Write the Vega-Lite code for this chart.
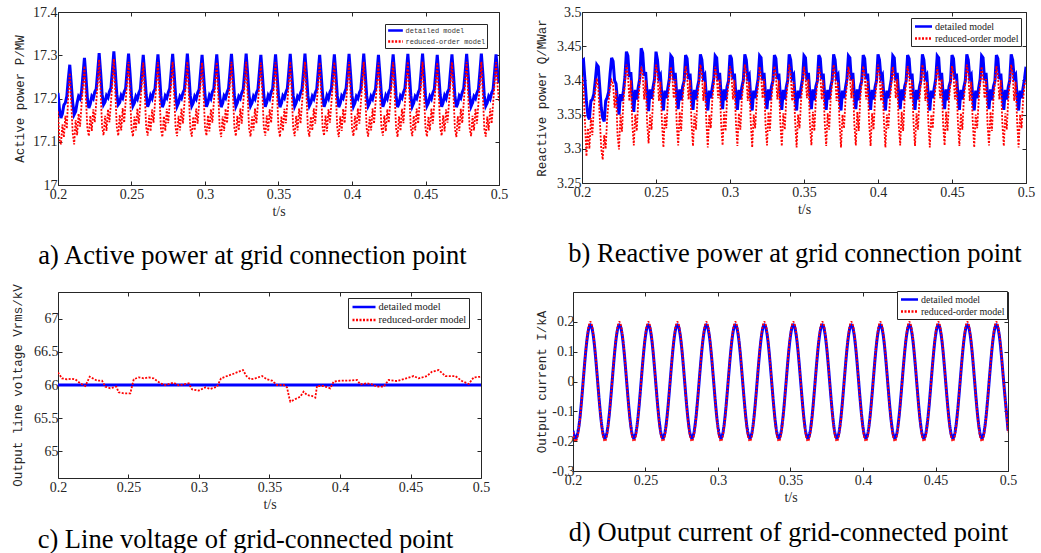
{
"$schema": "https://vega.github.io/schema/vega-lite/v6.json",
"background": "white",
"padding": {"left": 11, "top": 4, "right": 4, "bottom": 0},
"config": {
  "view": {"stroke": "#262626", "strokeWidth": 1},
  "axis": {"grid": false, "domain": false, "labelFlush": false, "labelOverlap": false, "tickColor": "#262626", "tickSize": -4, "tickWidth": 1, "labelFont": "Liberation Serif", "labelFontSize": 14, "labelColor": "#262626", "labelPadding": 5, "titleFont": "Liberation Mono", "titleFontSize": 12.5, "titleFontWeight": "normal", "titleColor": "#262626"},
  "axisX": {"titleFont": "Liberation Serif", "titleFontSize": 14, "labelPadding": 6, "titlePadding": 3},
  "title": {"font": "Liberation Serif", "fontSize": 26.5, "fontWeight": "normal", "color": "#000", "orient": "bottom", "anchor": "middle"}
},
"datasets": {
"A": [
{"t":0.2,"d":17.213,"r":17.17},{"t":0.201,"d":17.175,"r":17.105},{"t":0.202,"d":17.155,"r":17.094},{"t":0.203,"d":17.165,"r":17.14},{"t":0.204,"d":17.185,"r":17.11},{"t":0.205,"d":17.19,"r":17.16},{"t":0.206,"d":17.205,"r":17.13},{"t":0.207,"d":17.245,"r":17.21},
{"t":0.208,"d":17.278,"r":17.259},{"t":0.209,"d":17.235,"r":17.19},{"t":0.21,"d":17.19,"r":17.12},{"t":0.211,"d":17.163,"r":17.094},{"t":0.212,"d":17.17,"r":17.15},{"t":0.213,"d":17.19,"r":17.115},{"t":0.214,"d":17.205,"r":17.165},{"t":0.215,"d":17.2,"r":17.135},{"t":0.216,"d":17.215,"r":17.185},{"t":0.217,"d":17.255,"r":17.23},
{"t":0.218,"d":17.294,"r":17.275},{"t":0.219,"d":17.25,"r":17.2},{"t":0.22,"d":17.2,"r":17.13},{"t":0.221,"d":17.178,"r":17.113},{"t":0.222,"d":17.188,"r":17.16},{"t":0.223,"d":17.205,"r":17.125},{"t":0.224,"d":17.2,"r":17.175},{"t":0.225,"d":17.215,"r":17.145},{"t":0.226,"d":17.222,"r":17.19},{"t":0.227,"d":17.262,"r":17.235},
{"t":0.228,"d":17.305,"r":17.29},{"t":0.229,"d":17.26,"r":17.215},{"t":0.23,"d":17.21,"r":17.135},{"t":0.231,"d":17.186,"r":17.115},{"t":0.232,"d":17.192,"r":17.16},{"t":0.233,"d":17.207,"r":17.125},{"t":0.234,"d":17.202,"r":17.175},{"t":0.235,"d":17.216,"r":17.145},{"t":0.236,"d":17.224,"r":17.19},{"t":0.237,"d":17.265,"r":17.238},
{"t":0.238,"d":17.309,"r":17.292},{"t":0.239,"d":17.262,"r":17.214},{"t":0.24,"d":17.21,"r":17.134},{"t":0.241,"d":17.186,"r":17.114},{"t":0.242,"d":17.191,"r":17.162},{"t":0.243,"d":17.207,"r":17.126},{"t":0.244,"d":17.201,"r":17.178},{"t":0.245,"d":17.215,"r":17.144},{"t":0.246,"d":17.223,"r":17.192},{"t":0.247,"d":17.264,"r":17.238},
{"t":0.248,"d":17.304,"r":17.285},{"t":0.249,"d":17.258,"r":17.21},{"t":0.25,"d":17.206,"r":17.13},{"t":0.251,"d":17.183,"r":17.112},{"t":0.252,"d":17.19,"r":17.158},{"t":0.253,"d":17.205,"r":17.126},{"t":0.254,"d":17.199,"r":17.177},{"t":0.255,"d":17.213,"r":17.142},{"t":0.256,"d":17.221,"r":17.189},{"t":0.257,"d":17.261,"r":17.235},
{"t":0.258,"d":17.301,"r":17.283},{"t":0.259,"d":17.256,"r":17.213},{"t":0.26,"d":17.208,"r":17.133},{"t":0.261,"d":17.181,"r":17.114},{"t":0.262,"d":17.191,"r":17.161},{"t":0.263,"d":17.207,"r":17.124},{"t":0.264,"d":17.2,"r":17.175},{"t":0.265,"d":17.215,"r":17.144},{"t":0.266,"d":17.222,"r":17.191},{"t":0.267,"d":17.263,"r":17.236},
{"t":0.268,"d":17.302,"r":17.284},{"t":0.269,"d":17.257,"r":17.211},{"t":0.27,"d":17.206,"r":17.131},{"t":0.271,"d":17.18,"r":17.111},{"t":0.272,"d":17.189,"r":17.159},{"t":0.273,"d":17.206,"r":17.125},{"t":0.274,"d":17.201,"r":17.176},{"t":0.275,"d":17.214,"r":17.143},{"t":0.276,"d":17.223,"r":17.19},{"t":0.277,"d":17.262,"r":17.237},
{"t":0.278,"d":17.303,"r":17.285},{"t":0.279,"d":17.258,"r":17.212},{"t":0.28,"d":17.207,"r":17.132},{"t":0.281,"d":17.182,"r":17.113},{"t":0.282,"d":17.19,"r":17.16},{"t":0.283,"d":17.205,"r":17.126},{"t":0.284,"d":17.2,"r":17.177},{"t":0.285,"d":17.213,"r":17.142},{"t":0.286,"d":17.221,"r":17.189},{"t":0.287,"d":17.261,"r":17.235},
{"t":0.288,"d":17.304,"r":17.285},{"t":0.289,"d":17.258,"r":17.21},{"t":0.29,"d":17.206,"r":17.13},{"t":0.291,"d":17.183,"r":17.112},{"t":0.292,"d":17.19,"r":17.158},{"t":0.293,"d":17.205,"r":17.126},{"t":0.294,"d":17.199,"r":17.177},{"t":0.295,"d":17.213,"r":17.142},{"t":0.296,"d":17.221,"r":17.189},{"t":0.297,"d":17.261,"r":17.235},
{"t":0.298,"d":17.301,"r":17.283},{"t":0.299,"d":17.256,"r":17.213},{"t":0.3,"d":17.208,"r":17.133},{"t":0.301,"d":17.181,"r":17.114},{"t":0.302,"d":17.191,"r":17.161},{"t":0.303,"d":17.207,"r":17.124},{"t":0.304,"d":17.2,"r":17.175},{"t":0.305,"d":17.215,"r":17.144},{"t":0.306,"d":17.222,"r":17.191},{"t":0.307,"d":17.263,"r":17.236},
{"t":0.308,"d":17.302,"r":17.284},{"t":0.309,"d":17.257,"r":17.211},{"t":0.31,"d":17.206,"r":17.131},{"t":0.311,"d":17.18,"r":17.111},{"t":0.312,"d":17.189,"r":17.159},{"t":0.313,"d":17.206,"r":17.125},{"t":0.314,"d":17.201,"r":17.176},{"t":0.315,"d":17.214,"r":17.143},{"t":0.316,"d":17.223,"r":17.19},{"t":0.317,"d":17.262,"r":17.237},
{"t":0.318,"d":17.303,"r":17.285},{"t":0.319,"d":17.258,"r":17.212},{"t":0.32,"d":17.207,"r":17.132},{"t":0.321,"d":17.182,"r":17.113},{"t":0.322,"d":17.19,"r":17.16},{"t":0.323,"d":17.205,"r":17.126},{"t":0.324,"d":17.2,"r":17.177},{"t":0.325,"d":17.213,"r":17.142},{"t":0.326,"d":17.221,"r":17.189},{"t":0.327,"d":17.261,"r":17.235},
{"t":0.328,"d":17.304,"r":17.285},{"t":0.329,"d":17.258,"r":17.21},{"t":0.33,"d":17.206,"r":17.13},{"t":0.331,"d":17.183,"r":17.112},{"t":0.332,"d":17.19,"r":17.158},{"t":0.333,"d":17.205,"r":17.126},{"t":0.334,"d":17.199,"r":17.177},{"t":0.335,"d":17.213,"r":17.142},{"t":0.336,"d":17.221,"r":17.189},{"t":0.337,"d":17.261,"r":17.235},
{"t":0.338,"d":17.301,"r":17.283},{"t":0.339,"d":17.256,"r":17.213},{"t":0.34,"d":17.208,"r":17.133},{"t":0.341,"d":17.181,"r":17.114},{"t":0.342,"d":17.191,"r":17.161},{"t":0.343,"d":17.207,"r":17.124},{"t":0.344,"d":17.2,"r":17.175},{"t":0.345,"d":17.215,"r":17.144},{"t":0.346,"d":17.222,"r":17.191},{"t":0.347,"d":17.263,"r":17.236},
{"t":0.348,"d":17.302,"r":17.284},{"t":0.349,"d":17.257,"r":17.211},{"t":0.35,"d":17.206,"r":17.131},{"t":0.351,"d":17.18,"r":17.111},{"t":0.352,"d":17.189,"r":17.159},{"t":0.353,"d":17.206,"r":17.125},{"t":0.354,"d":17.201,"r":17.176},{"t":0.355,"d":17.214,"r":17.143},{"t":0.356,"d":17.223,"r":17.19},{"t":0.357,"d":17.262,"r":17.237},
{"t":0.358,"d":17.303,"r":17.285},{"t":0.359,"d":17.258,"r":17.212},{"t":0.36,"d":17.207,"r":17.132},{"t":0.361,"d":17.182,"r":17.113},{"t":0.362,"d":17.19,"r":17.16},{"t":0.363,"d":17.205,"r":17.126},{"t":0.364,"d":17.2,"r":17.177},{"t":0.365,"d":17.213,"r":17.142},{"t":0.366,"d":17.221,"r":17.189},{"t":0.367,"d":17.261,"r":17.235},
{"t":0.368,"d":17.304,"r":17.285},{"t":0.369,"d":17.258,"r":17.21},{"t":0.37,"d":17.206,"r":17.13},{"t":0.371,"d":17.183,"r":17.112},{"t":0.372,"d":17.19,"r":17.158},{"t":0.373,"d":17.205,"r":17.126},{"t":0.374,"d":17.199,"r":17.177},{"t":0.375,"d":17.213,"r":17.142},{"t":0.376,"d":17.221,"r":17.189},{"t":0.377,"d":17.261,"r":17.235},
{"t":0.378,"d":17.301,"r":17.283},{"t":0.379,"d":17.256,"r":17.213},{"t":0.38,"d":17.208,"r":17.133},{"t":0.381,"d":17.181,"r":17.114},{"t":0.382,"d":17.191,"r":17.161},{"t":0.383,"d":17.207,"r":17.124},{"t":0.384,"d":17.2,"r":17.175},{"t":0.385,"d":17.215,"r":17.144},{"t":0.386,"d":17.222,"r":17.191},{"t":0.387,"d":17.263,"r":17.236},
{"t":0.388,"d":17.302,"r":17.284},{"t":0.389,"d":17.257,"r":17.211},{"t":0.39,"d":17.206,"r":17.131},{"t":0.391,"d":17.18,"r":17.111},{"t":0.392,"d":17.189,"r":17.159},{"t":0.393,"d":17.206,"r":17.125},{"t":0.394,"d":17.201,"r":17.176},{"t":0.395,"d":17.214,"r":17.143},{"t":0.396,"d":17.223,"r":17.19},{"t":0.397,"d":17.262,"r":17.237},
{"t":0.398,"d":17.303,"r":17.285},{"t":0.399,"d":17.258,"r":17.212},{"t":0.4,"d":17.207,"r":17.132},{"t":0.401,"d":17.182,"r":17.113},{"t":0.402,"d":17.19,"r":17.16},{"t":0.403,"d":17.205,"r":17.126},{"t":0.404,"d":17.2,"r":17.177},{"t":0.405,"d":17.213,"r":17.142},{"t":0.406,"d":17.221,"r":17.189},{"t":0.407,"d":17.261,"r":17.235},
{"t":0.408,"d":17.304,"r":17.285},{"t":0.409,"d":17.258,"r":17.21},{"t":0.41,"d":17.206,"r":17.13},{"t":0.411,"d":17.183,"r":17.112},{"t":0.412,"d":17.19,"r":17.158},{"t":0.413,"d":17.205,"r":17.126},{"t":0.414,"d":17.199,"r":17.177},{"t":0.415,"d":17.213,"r":17.142},{"t":0.416,"d":17.221,"r":17.189},{"t":0.417,"d":17.261,"r":17.235},
{"t":0.418,"d":17.301,"r":17.283},{"t":0.419,"d":17.256,"r":17.213},{"t":0.42,"d":17.208,"r":17.133},{"t":0.421,"d":17.181,"r":17.114},{"t":0.422,"d":17.191,"r":17.161},{"t":0.423,"d":17.207,"r":17.124},{"t":0.424,"d":17.2,"r":17.175},{"t":0.425,"d":17.215,"r":17.144},{"t":0.426,"d":17.222,"r":17.191},{"t":0.427,"d":17.263,"r":17.236},
{"t":0.428,"d":17.302,"r":17.284},{"t":0.429,"d":17.257,"r":17.211},{"t":0.43,"d":17.206,"r":17.131},{"t":0.431,"d":17.18,"r":17.111},{"t":0.432,"d":17.189,"r":17.159},{"t":0.433,"d":17.206,"r":17.125},{"t":0.434,"d":17.201,"r":17.176},{"t":0.435,"d":17.214,"r":17.143},{"t":0.436,"d":17.223,"r":17.19},{"t":0.437,"d":17.262,"r":17.237},
{"t":0.438,"d":17.303,"r":17.285},{"t":0.439,"d":17.258,"r":17.212},{"t":0.44,"d":17.207,"r":17.132},{"t":0.441,"d":17.182,"r":17.113},{"t":0.442,"d":17.19,"r":17.16},{"t":0.443,"d":17.205,"r":17.126},{"t":0.444,"d":17.2,"r":17.177},{"t":0.445,"d":17.213,"r":17.142},{"t":0.446,"d":17.221,"r":17.189},{"t":0.447,"d":17.261,"r":17.235},
{"t":0.448,"d":17.304,"r":17.285},{"t":0.449,"d":17.258,"r":17.21},{"t":0.45,"d":17.206,"r":17.13},{"t":0.451,"d":17.183,"r":17.112},{"t":0.452,"d":17.19,"r":17.158},{"t":0.453,"d":17.205,"r":17.126},{"t":0.454,"d":17.199,"r":17.177},{"t":0.455,"d":17.213,"r":17.142},{"t":0.456,"d":17.221,"r":17.189},{"t":0.457,"d":17.261,"r":17.235},
{"t":0.458,"d":17.301,"r":17.283},{"t":0.459,"d":17.256,"r":17.213},{"t":0.46,"d":17.208,"r":17.133},{"t":0.461,"d":17.181,"r":17.114},{"t":0.462,"d":17.191,"r":17.161},{"t":0.463,"d":17.207,"r":17.124},{"t":0.464,"d":17.2,"r":17.175},{"t":0.465,"d":17.215,"r":17.144},{"t":0.466,"d":17.222,"r":17.191},{"t":0.467,"d":17.263,"r":17.236},
{"t":0.468,"d":17.302,"r":17.284},{"t":0.469,"d":17.257,"r":17.211},{"t":0.47,"d":17.206,"r":17.131},{"t":0.471,"d":17.18,"r":17.111},{"t":0.472,"d":17.189,"r":17.159},{"t":0.473,"d":17.206,"r":17.125},{"t":0.474,"d":17.201,"r":17.176},{"t":0.475,"d":17.214,"r":17.143},{"t":0.476,"d":17.223,"r":17.19},{"t":0.477,"d":17.262,"r":17.237},
{"t":0.478,"d":17.303,"r":17.285},{"t":0.479,"d":17.258,"r":17.212},{"t":0.48,"d":17.207,"r":17.132},{"t":0.481,"d":17.182,"r":17.113},{"t":0.482,"d":17.19,"r":17.16},{"t":0.483,"d":17.205,"r":17.126},{"t":0.484,"d":17.2,"r":17.177},{"t":0.485,"d":17.213,"r":17.142},{"t":0.486,"d":17.221,"r":17.189},{"t":0.487,"d":17.261,"r":17.235},
{"t":0.488,"d":17.304,"r":17.285},{"t":0.489,"d":17.258,"r":17.21},{"t":0.49,"d":17.206,"r":17.13},{"t":0.491,"d":17.183,"r":17.112},{"t":0.492,"d":17.19,"r":17.158},{"t":0.493,"d":17.205,"r":17.126},{"t":0.494,"d":17.199,"r":17.177},{"t":0.495,"d":17.213,"r":17.142},{"t":0.496,"d":17.221,"r":17.189},{"t":0.497,"d":17.261,"r":17.235},
{"t":0.498,"d":17.302,"r":17.284},{"t":0.499,"d":17.262,"r":17.23},{"t":0.5,"d":17.235,"r":17.195}
],
"B": [
{"t":0.2,"d":3.428,"r":3.405},{"t":0.201,"d":3.43,"r":3.39},{"t":0.202,"d":3.4,"r":3.34},{"t":0.203,"d":3.37,"r":3.289},{"t":0.204,"d":3.348,"r":3.33},{"t":0.205,"d":3.343,"r":3.3},{"t":0.206,"d":3.37,"r":3.345},{"t":0.207,"d":3.372,"r":3.32},{"t":0.208,"d":3.38,"r":3.36},{"t":0.209,"d":3.4,"r":3.385},
{"t":0.21,"d":3.423,"r":3.403},{"t":0.211,"d":3.42,"r":3.39},{"t":0.212,"d":3.39,"r":3.345},{"t":0.213,"d":3.36,"r":3.3},{"t":0.214,"d":3.345,"r":3.284},{"t":0.215,"d":3.34,"r":3.32},{"t":0.216,"d":3.37,"r":3.3},{"t":0.217,"d":3.375,"r":3.345},{"t":0.218,"d":3.383,"r":3.37},{"t":0.219,"d":3.41,"r":3.39},
{"t":0.22,"d":3.433,"r":3.4},{"t":0.221,"d":3.428,"r":3.395},{"t":0.222,"d":3.4,"r":3.36},{"t":0.223,"d":3.395,"r":3.385},{"t":0.224,"d":3.37,"r":3.32},{"t":0.225,"d":3.35,"r":3.299},{"t":0.226,"d":3.38,"r":3.35},{"t":0.227,"d":3.37,"r":3.325},{"t":0.228,"d":3.385,"r":3.37},{"t":0.229,"d":3.405,"r":3.395},
{"t":0.23,"d":3.442,"r":3.423},{"t":0.231,"d":3.436,"r":3.41},{"t":0.232,"d":3.405,"r":3.37},{"t":0.233,"d":3.412,"r":3.4},{"t":0.234,"d":3.378,"r":3.336},{"t":0.235,"d":3.354,"r":3.305},{"t":0.236,"d":3.386,"r":3.35},{"t":0.237,"d":3.372,"r":3.326},{"t":0.238,"d":3.39,"r":3.37},{"t":0.239,"d":3.402,"r":3.396},
{"t":0.24,"d":3.447,"r":3.42},{"t":0.241,"d":3.44,"r":3.41},{"t":0.242,"d":3.407,"r":3.372},{"t":0.243,"d":3.412,"r":3.4},{"t":0.244,"d":3.38,"r":3.338},{"t":0.245,"d":3.355,"r":3.308},{"t":0.246,"d":3.387,"r":3.35},{"t":0.247,"d":3.373,"r":3.328},{"t":0.248,"d":3.39,"r":3.37},{"t":0.249,"d":3.402,"r":3.396},
{"t":0.25,"d":3.442,"r":3.423},{"t":0.251,"d":3.43,"r":3.41},{"t":0.252,"d":3.404,"r":3.37},{"t":0.253,"d":3.408,"r":3.398},{"t":0.254,"d":3.376,"r":3.34},{"t":0.255,"d":3.356,"r":3.302},{"t":0.256,"d":3.385,"r":3.35},{"t":0.257,"d":3.374,"r":3.33},{"t":0.258,"d":3.389,"r":3.37},{"t":0.259,"d":3.402,"r":3.394},
{"t":0.26,"d":3.436,"r":3.42},{"t":0.261,"d":3.433,"r":3.406},{"t":0.262,"d":3.4,"r":3.374},{"t":0.263,"d":3.411,"r":3.402},{"t":0.264,"d":3.379,"r":3.336},{"t":0.265,"d":3.358,"r":3.305},{"t":0.266,"d":3.387,"r":3.354},{"t":0.267,"d":3.371,"r":3.326},{"t":0.268,"d":3.391,"r":3.373},{"t":0.269,"d":3.399,"r":3.397},
{"t":0.27,"d":3.437,"r":3.421},{"t":0.271,"d":3.432,"r":3.408},{"t":0.272,"d":3.402,"r":3.372},{"t":0.273,"d":3.41,"r":3.4},{"t":0.274,"d":3.378,"r":3.338},{"t":0.275,"d":3.357,"r":3.304},{"t":0.276,"d":3.386,"r":3.352},{"t":0.277,"d":3.372,"r":3.328},{"t":0.278,"d":3.39,"r":3.372},{"t":0.279,"d":3.4,"r":3.396},
{"t":0.28,"d":3.438,"r":3.423},{"t":0.281,"d":3.43,"r":3.41},{"t":0.282,"d":3.404,"r":3.37},{"t":0.283,"d":3.408,"r":3.398},{"t":0.284,"d":3.376,"r":3.34},{"t":0.285,"d":3.356,"r":3.302},{"t":0.286,"d":3.385,"r":3.35},{"t":0.287,"d":3.374,"r":3.33},{"t":0.288,"d":3.389,"r":3.37},{"t":0.289,"d":3.402,"r":3.394},
{"t":0.29,"d":3.436,"r":3.42},{"t":0.291,"d":3.433,"r":3.406},{"t":0.292,"d":3.4,"r":3.374},{"t":0.293,"d":3.411,"r":3.402},{"t":0.294,"d":3.379,"r":3.336},{"t":0.295,"d":3.358,"r":3.305},{"t":0.296,"d":3.387,"r":3.354},{"t":0.297,"d":3.371,"r":3.326},{"t":0.298,"d":3.391,"r":3.373},{"t":0.299,"d":3.399,"r":3.397},
{"t":0.3,"d":3.437,"r":3.421},{"t":0.301,"d":3.432,"r":3.408},{"t":0.302,"d":3.402,"r":3.372},{"t":0.303,"d":3.41,"r":3.4},{"t":0.304,"d":3.378,"r":3.338},{"t":0.305,"d":3.357,"r":3.304},{"t":0.306,"d":3.386,"r":3.352},{"t":0.307,"d":3.372,"r":3.328},{"t":0.308,"d":3.39,"r":3.372},{"t":0.309,"d":3.4,"r":3.396},
{"t":0.31,"d":3.438,"r":3.423},{"t":0.311,"d":3.43,"r":3.41},{"t":0.312,"d":3.404,"r":3.37},{"t":0.313,"d":3.408,"r":3.398},{"t":0.314,"d":3.376,"r":3.34},{"t":0.315,"d":3.356,"r":3.302},{"t":0.316,"d":3.385,"r":3.35},{"t":0.317,"d":3.374,"r":3.33},{"t":0.318,"d":3.389,"r":3.37},{"t":0.319,"d":3.402,"r":3.394},
{"t":0.32,"d":3.436,"r":3.42},{"t":0.321,"d":3.433,"r":3.406},{"t":0.322,"d":3.4,"r":3.374},{"t":0.323,"d":3.411,"r":3.402},{"t":0.324,"d":3.379,"r":3.336},{"t":0.325,"d":3.358,"r":3.305},{"t":0.326,"d":3.387,"r":3.354},{"t":0.327,"d":3.371,"r":3.326},{"t":0.328,"d":3.391,"r":3.373},{"t":0.329,"d":3.399,"r":3.397},
{"t":0.33,"d":3.437,"r":3.421},{"t":0.331,"d":3.432,"r":3.408},{"t":0.332,"d":3.402,"r":3.372},{"t":0.333,"d":3.41,"r":3.4},{"t":0.334,"d":3.378,"r":3.338},{"t":0.335,"d":3.357,"r":3.304},{"t":0.336,"d":3.386,"r":3.352},{"t":0.337,"d":3.372,"r":3.328},{"t":0.338,"d":3.39,"r":3.372},{"t":0.339,"d":3.4,"r":3.396},
{"t":0.34,"d":3.438,"r":3.423},{"t":0.341,"d":3.43,"r":3.41},{"t":0.342,"d":3.404,"r":3.37},{"t":0.343,"d":3.408,"r":3.398},{"t":0.344,"d":3.376,"r":3.34},{"t":0.345,"d":3.356,"r":3.302},{"t":0.346,"d":3.385,"r":3.35},{"t":0.347,"d":3.374,"r":3.33},{"t":0.348,"d":3.389,"r":3.37},{"t":0.349,"d":3.402,"r":3.394},
{"t":0.35,"d":3.436,"r":3.42},{"t":0.351,"d":3.433,"r":3.406},{"t":0.352,"d":3.4,"r":3.374},{"t":0.353,"d":3.411,"r":3.402},{"t":0.354,"d":3.379,"r":3.336},{"t":0.355,"d":3.358,"r":3.305},{"t":0.356,"d":3.387,"r":3.354},{"t":0.357,"d":3.371,"r":3.326},{"t":0.358,"d":3.391,"r":3.373},{"t":0.359,"d":3.399,"r":3.397},
{"t":0.36,"d":3.437,"r":3.421},{"t":0.361,"d":3.432,"r":3.408},{"t":0.362,"d":3.402,"r":3.372},{"t":0.363,"d":3.41,"r":3.4},{"t":0.364,"d":3.378,"r":3.338},{"t":0.365,"d":3.357,"r":3.304},{"t":0.366,"d":3.386,"r":3.352},{"t":0.367,"d":3.372,"r":3.328},{"t":0.368,"d":3.39,"r":3.372},{"t":0.369,"d":3.4,"r":3.396},
{"t":0.37,"d":3.438,"r":3.423},{"t":0.371,"d":3.43,"r":3.41},{"t":0.372,"d":3.404,"r":3.37},{"t":0.373,"d":3.408,"r":3.398},{"t":0.374,"d":3.376,"r":3.34},{"t":0.375,"d":3.356,"r":3.302},{"t":0.376,"d":3.385,"r":3.35},{"t":0.377,"d":3.374,"r":3.33},{"t":0.378,"d":3.389,"r":3.37},{"t":0.379,"d":3.402,"r":3.394},
{"t":0.38,"d":3.436,"r":3.42},{"t":0.381,"d":3.433,"r":3.406},{"t":0.382,"d":3.4,"r":3.374},{"t":0.383,"d":3.411,"r":3.402},{"t":0.384,"d":3.379,"r":3.336},{"t":0.385,"d":3.358,"r":3.305},{"t":0.386,"d":3.387,"r":3.354},{"t":0.387,"d":3.371,"r":3.326},{"t":0.388,"d":3.391,"r":3.373},{"t":0.389,"d":3.399,"r":3.397},
{"t":0.39,"d":3.437,"r":3.421},{"t":0.391,"d":3.432,"r":3.408},{"t":0.392,"d":3.402,"r":3.372},{"t":0.393,"d":3.41,"r":3.4},{"t":0.394,"d":3.378,"r":3.338},{"t":0.395,"d":3.357,"r":3.304},{"t":0.396,"d":3.386,"r":3.352},{"t":0.397,"d":3.372,"r":3.328},{"t":0.398,"d":3.39,"r":3.372},{"t":0.399,"d":3.4,"r":3.396},
{"t":0.4,"d":3.438,"r":3.423},{"t":0.401,"d":3.43,"r":3.41},{"t":0.402,"d":3.404,"r":3.37},{"t":0.403,"d":3.408,"r":3.398},{"t":0.404,"d":3.376,"r":3.34},{"t":0.405,"d":3.356,"r":3.302},{"t":0.406,"d":3.385,"r":3.35},{"t":0.407,"d":3.374,"r":3.33},{"t":0.408,"d":3.389,"r":3.37},{"t":0.409,"d":3.402,"r":3.394},
{"t":0.41,"d":3.436,"r":3.42},{"t":0.411,"d":3.433,"r":3.406},{"t":0.412,"d":3.4,"r":3.374},{"t":0.413,"d":3.411,"r":3.402},{"t":0.414,"d":3.379,"r":3.336},{"t":0.415,"d":3.358,"r":3.305},{"t":0.416,"d":3.387,"r":3.354},{"t":0.417,"d":3.371,"r":3.326},{"t":0.418,"d":3.391,"r":3.373},{"t":0.419,"d":3.399,"r":3.397},
{"t":0.42,"d":3.437,"r":3.421},{"t":0.421,"d":3.432,"r":3.408},{"t":0.422,"d":3.402,"r":3.372},{"t":0.423,"d":3.41,"r":3.4},{"t":0.424,"d":3.378,"r":3.338},{"t":0.425,"d":3.357,"r":3.304},{"t":0.426,"d":3.386,"r":3.352},{"t":0.427,"d":3.372,"r":3.328},{"t":0.428,"d":3.39,"r":3.372},{"t":0.429,"d":3.4,"r":3.396},
{"t":0.43,"d":3.438,"r":3.423},{"t":0.431,"d":3.43,"r":3.41},{"t":0.432,"d":3.404,"r":3.37},{"t":0.433,"d":3.408,"r":3.398},{"t":0.434,"d":3.376,"r":3.34},{"t":0.435,"d":3.356,"r":3.302},{"t":0.436,"d":3.385,"r":3.35},{"t":0.437,"d":3.374,"r":3.33},{"t":0.438,"d":3.389,"r":3.37},{"t":0.439,"d":3.402,"r":3.394},
{"t":0.44,"d":3.436,"r":3.42},{"t":0.441,"d":3.433,"r":3.406},{"t":0.442,"d":3.4,"r":3.374},{"t":0.443,"d":3.411,"r":3.402},{"t":0.444,"d":3.379,"r":3.336},{"t":0.445,"d":3.358,"r":3.305},{"t":0.446,"d":3.387,"r":3.354},{"t":0.447,"d":3.371,"r":3.326},{"t":0.448,"d":3.391,"r":3.373},{"t":0.449,"d":3.399,"r":3.397},
{"t":0.45,"d":3.437,"r":3.421},{"t":0.451,"d":3.432,"r":3.408},{"t":0.452,"d":3.402,"r":3.372},{"t":0.453,"d":3.41,"r":3.4},{"t":0.454,"d":3.378,"r":3.338},{"t":0.455,"d":3.357,"r":3.304},{"t":0.456,"d":3.386,"r":3.352},{"t":0.457,"d":3.372,"r":3.328},{"t":0.458,"d":3.39,"r":3.372},{"t":0.459,"d":3.4,"r":3.396},
{"t":0.46,"d":3.438,"r":3.423},{"t":0.461,"d":3.43,"r":3.41},{"t":0.462,"d":3.404,"r":3.37},{"t":0.463,"d":3.408,"r":3.398},{"t":0.464,"d":3.376,"r":3.34},{"t":0.465,"d":3.356,"r":3.302},{"t":0.466,"d":3.385,"r":3.35},{"t":0.467,"d":3.374,"r":3.33},{"t":0.468,"d":3.389,"r":3.37},{"t":0.469,"d":3.402,"r":3.394},
{"t":0.47,"d":3.436,"r":3.42},{"t":0.471,"d":3.433,"r":3.406},{"t":0.472,"d":3.4,"r":3.374},{"t":0.473,"d":3.411,"r":3.402},{"t":0.474,"d":3.379,"r":3.336},{"t":0.475,"d":3.358,"r":3.305},{"t":0.476,"d":3.387,"r":3.354},{"t":0.477,"d":3.371,"r":3.326},{"t":0.478,"d":3.391,"r":3.373},{"t":0.479,"d":3.399,"r":3.397},
{"t":0.48,"d":3.437,"r":3.421},{"t":0.481,"d":3.432,"r":3.408},{"t":0.482,"d":3.402,"r":3.372},{"t":0.483,"d":3.41,"r":3.4},{"t":0.484,"d":3.378,"r":3.338},{"t":0.485,"d":3.357,"r":3.304},{"t":0.486,"d":3.386,"r":3.352},{"t":0.487,"d":3.372,"r":3.328},{"t":0.488,"d":3.39,"r":3.372},{"t":0.489,"d":3.4,"r":3.396},
{"t":0.49,"d":3.438,"r":3.423},{"t":0.491,"d":3.43,"r":3.41},{"t":0.492,"d":3.404,"r":3.37},{"t":0.493,"d":3.408,"r":3.398},{"t":0.494,"d":3.376,"r":3.34},{"t":0.495,"d":3.356,"r":3.302},{"t":0.496,"d":3.385,"r":3.35},{"t":0.497,"d":3.374,"r":3.33},{"t":0.498,"d":3.389,"r":3.37},{"t":0.499,"d":3.402,"r":3.394},
{"t":0.5,"d":3.42,"r":3.4}
],
"C": [
{"t":0.2,"d":66,"r":66.19},{"t":0.2028,"d":66,"r":66.1},{"t":0.2064,"d":66,"r":66.085},{"t":0.2095,"d":66,"r":66.095},{"t":0.2123,"d":66,"r":66.085},{"t":0.2158,"d":66,"r":66.025},{"t":0.2194,"d":66,"r":65.985},{"t":0.2225,"d":66,"r":66.125},{"t":0.2277,"d":66,"r":66.065},{"t":0.2312,"d":66,"r":66.065},{"t":0.2336,"d":66,"r":65.975},{"t":0.2371,"d":66,"r":65.95},{"t":0.2414,"d":66,"r":65.975},{"t":0.243,"d":66,"r":65.89},{"t":0.2466,"d":66,"r":65.875},{"t":0.2513,"d":66,"r":65.875},{"t":0.2537,"d":66,"r":66.085},{"t":0.2572,"d":66,"r":66.115},{"t":0.2608,"d":66,"r":66.1},{"t":0.2643,"d":66,"r":66.115},{"t":0.2678,"d":66,"r":66.1},{"t":0.2726,"d":66,"r":66.025},{"t":0.2761,"d":66,"r":66},{"t":0.282,"d":66,"r":66.035},{"t":0.2856,"d":66,"r":65.995},{"t":0.2927,"d":66,"r":66.025},{"t":0.295,"d":66,"r":65.935},{"t":0.2998,"d":66,"r":65.915},{"t":0.3045,"d":66,"r":65.965},{"t":0.308,"d":66,"r":65.94},{"t":0.3128,"d":66,"r":65.975},{"t":0.3156,"d":66,"r":66.1},{"t":0.3199,"d":66,"r":66.135},{"t":0.3234,"d":66,"r":66.16},{"t":0.3281,"d":66,"r":66.2},{"t":0.3312,"d":66,"r":66.225},{"t":0.3336,"d":66,"r":66.135},{"t":0.3364,"d":66,"r":66.085},{"t":0.34,"d":66,"r":66.1},{"t":0.3447,"d":66,"r":66.135},{"t":0.3482,"d":66,"r":66.085},{"t":0.3518,"d":66,"r":66.065},{"t":0.3553,"d":66,"r":66},{"t":0.36,"d":66,"r":66},{"t":0.3624,"d":66,"r":65.965},{"t":0.3641,"d":66,"r":65.8},{"t":0.3648,"d":66,"r":65.75},{"t":0.3695,"d":66,"r":65.8},{"t":0.3719,"d":66,"r":65.825},{"t":0.3742,"d":66,"r":65.9},{"t":0.3766,"d":66,"r":65.85},{"t":0.3801,"d":66,"r":65.835},{"t":0.3825,"d":66,"r":65.81},{"t":0.3837,"d":66,"r":65.985},{"t":0.3884,"d":66,"r":65.985},{"t":0.3931,"d":66,"r":65.95},{"t":0.3955,"d":66,"r":66.05},{"t":0.4002,"d":66,"r":66.065},{"t":0.405,"d":66,"r":66.065},{"t":0.4121,"d":66,"r":66.075},{"t":0.4144,"d":66,"r":66.01},{"t":0.4191,"d":66,"r":66.025},{"t":0.4227,"d":66,"r":66.01},{"t":0.4262,"d":66,"r":65.975},{"t":0.431,"d":66,"r":65.975},{"t":0.4345,"d":66,"r":66.075},{"t":0.4404,"d":66,"r":66.06},{"t":0.4463,"d":66,"r":66.095},{"t":0.4522,"d":66,"r":66.135},{"t":0.4558,"d":66,"r":66.1},{"t":0.4617,"d":66,"r":66.135},{"t":0.4652,"d":66,"r":66.2},{"t":0.47,"d":66,"r":66.225},{"t":0.4747,"d":66,"r":66.135},{"t":0.4818,"d":66,"r":66.135},{"t":0.4865,"d":66,"r":66.06},{"t":0.4913,"d":66,"r":66.015},{"t":0.4948,"d":66,"r":66.115},{"t":0.5,"d":66,"r":66.125}
],
"D": [
{"t":0.2,"d":-0.165,"r":-0.17},
{"t":0.202,"d":-0.19,"r":-0.2},{"t":0.2045,"d":-0.134,"r":-0.141},{"t":0.207,"d":0,"r":0},{"t":0.2095,"d":0.134,"r":0.141},{"t":0.212,"d":0.19,"r":0.2},{"t":0.2145,"d":0.134,"r":0.141},{"t":0.217,"d":0,"r":0},{"t":0.2195,"d":-0.134,"r":-0.141},
{"t":0.222,"d":-0.19,"r":-0.2},{"t":0.2245,"d":-0.134,"r":-0.141},{"t":0.227,"d":0,"r":0},{"t":0.2295,"d":0.134,"r":0.141},{"t":0.232,"d":0.19,"r":0.2},{"t":0.2345,"d":0.134,"r":0.141},{"t":0.237,"d":0,"r":0},{"t":0.2395,"d":-0.134,"r":-0.141},
{"t":0.242,"d":-0.19,"r":-0.2},{"t":0.2445,"d":-0.134,"r":-0.141},{"t":0.247,"d":0,"r":0},{"t":0.2495,"d":0.134,"r":0.141},{"t":0.252,"d":0.19,"r":0.2},{"t":0.2545,"d":0.134,"r":0.141},{"t":0.257,"d":0,"r":0},{"t":0.2595,"d":-0.134,"r":-0.141},
{"t":0.262,"d":-0.19,"r":-0.2},{"t":0.2645,"d":-0.134,"r":-0.141},{"t":0.267,"d":0,"r":0},{"t":0.2695,"d":0.134,"r":0.141},{"t":0.272,"d":0.19,"r":0.2},{"t":0.2745,"d":0.134,"r":0.141},{"t":0.277,"d":0,"r":0},{"t":0.2795,"d":-0.134,"r":-0.141},
{"t":0.282,"d":-0.19,"r":-0.2},{"t":0.2845,"d":-0.134,"r":-0.141},{"t":0.287,"d":0,"r":0},{"t":0.2895,"d":0.134,"r":0.141},{"t":0.292,"d":0.19,"r":0.2},{"t":0.2945,"d":0.134,"r":0.141},{"t":0.297,"d":0,"r":0},{"t":0.2995,"d":-0.134,"r":-0.141},
{"t":0.302,"d":-0.19,"r":-0.2},{"t":0.3045,"d":-0.134,"r":-0.141},{"t":0.307,"d":0,"r":0},{"t":0.3095,"d":0.134,"r":0.141},{"t":0.312,"d":0.19,"r":0.2},{"t":0.3145,"d":0.134,"r":0.141},{"t":0.317,"d":0,"r":0},{"t":0.3195,"d":-0.134,"r":-0.141},
{"t":0.322,"d":-0.19,"r":-0.2},{"t":0.3245,"d":-0.134,"r":-0.141},{"t":0.327,"d":0,"r":0},{"t":0.3295,"d":0.134,"r":0.141},{"t":0.332,"d":0.19,"r":0.2},{"t":0.3345,"d":0.134,"r":0.141},{"t":0.337,"d":0,"r":0},{"t":0.3395,"d":-0.134,"r":-0.141},
{"t":0.342,"d":-0.19,"r":-0.2},{"t":0.3445,"d":-0.134,"r":-0.141},{"t":0.347,"d":0,"r":0},{"t":0.3495,"d":0.134,"r":0.141},{"t":0.352,"d":0.19,"r":0.2},{"t":0.3545,"d":0.134,"r":0.141},{"t":0.357,"d":0,"r":0},{"t":0.3595,"d":-0.134,"r":-0.141},
{"t":0.362,"d":-0.19,"r":-0.2},{"t":0.3645,"d":-0.134,"r":-0.141},{"t":0.367,"d":0,"r":0},{"t":0.3695,"d":0.134,"r":0.141},{"t":0.372,"d":0.19,"r":0.2},{"t":0.3745,"d":0.134,"r":0.141},{"t":0.377,"d":0,"r":0},{"t":0.3795,"d":-0.134,"r":-0.141},
{"t":0.382,"d":-0.19,"r":-0.2},{"t":0.3845,"d":-0.134,"r":-0.141},{"t":0.387,"d":0,"r":0},{"t":0.3895,"d":0.134,"r":0.141},{"t":0.392,"d":0.19,"r":0.2},{"t":0.3945,"d":0.134,"r":0.141},{"t":0.397,"d":0,"r":0},{"t":0.3995,"d":-0.134,"r":-0.141},
{"t":0.402,"d":-0.19,"r":-0.2},{"t":0.4045,"d":-0.134,"r":-0.141},{"t":0.407,"d":0,"r":0},{"t":0.4095,"d":0.134,"r":0.141},{"t":0.412,"d":0.19,"r":0.2},{"t":0.4145,"d":0.134,"r":0.141},{"t":0.417,"d":0,"r":0},{"t":0.4195,"d":-0.134,"r":-0.141},
{"t":0.422,"d":-0.19,"r":-0.2},{"t":0.4245,"d":-0.134,"r":-0.141},{"t":0.427,"d":0,"r":0},{"t":0.4295,"d":0.134,"r":0.141},{"t":0.432,"d":0.19,"r":0.2},{"t":0.4345,"d":0.134,"r":0.141},{"t":0.437,"d":0,"r":0},{"t":0.4395,"d":-0.134,"r":-0.141},
{"t":0.442,"d":-0.19,"r":-0.2},{"t":0.4445,"d":-0.134,"r":-0.141},{"t":0.447,"d":0,"r":0},{"t":0.4495,"d":0.134,"r":0.141},{"t":0.452,"d":0.19,"r":0.2},{"t":0.4545,"d":0.134,"r":0.141},{"t":0.457,"d":0,"r":0},{"t":0.4595,"d":-0.134,"r":-0.141},
{"t":0.462,"d":-0.19,"r":-0.2},{"t":0.4645,"d":-0.134,"r":-0.141},{"t":0.467,"d":0,"r":0},{"t":0.4695,"d":0.134,"r":0.141},{"t":0.472,"d":0.19,"r":0.2},{"t":0.4745,"d":0.134,"r":0.141},{"t":0.477,"d":0,"r":0},{"t":0.4795,"d":-0.134,"r":-0.141},
{"t":0.482,"d":-0.19,"r":-0.2},{"t":0.4845,"d":-0.134,"r":-0.141},{"t":0.487,"d":0,"r":0},{"t":0.4895,"d":0.134,"r":0.141},{"t":0.492,"d":0.19,"r":0.2},{"t":0.4945,"d":0.134,"r":0.141},{"t":0.497,"d":0,"r":0},{"t":0.4995,"d":-0.134,"r":-0.141},
{"t":0.5,"d":-0.165,"r":-0.17}
]
},
"resolve": {"scale": {"color": "independent", "strokeDash": "independent"}},
"vconcat": [
{"resolve": {"scale": {"color": "independent", "strokeDash": "independent"}},
 "hconcat": [
{"width": 441, "height": 173,
 "title": {"text": "a) Active power at grid connection point", "dx": -26, "offset": 25},
 "layer": [
  {"data": {"name": "A"}, "transform": [{"fold": ["d","r"], "as": ["s","v"]}],
   "mark": {"type": "line", "clip": true},
   "encoding": {
    "x": {"field": "t", "type": "quantitative", "scale": {"domain": [0.2,0.5], "nice": false, "zero": false}, "axis": {"values": [0.2,0.25,0.3,0.35,0.4,0.45,0.5], "labelExpr": "''+datum.value", "title": "t/s"}},
    "y": {"field": "v", "type": "quantitative", "scale": {"domain": [17,17.4], "nice": false, "zero": false}, "axis": {"values": [17,17.1,17.2,17.3,17.4], "labelExpr": "''+datum.value", "title": "Active power P/MW", "titlePadding": 6}},
    "color": {"field": "s", "type": "nominal", "scale": {"domain": ["d","r"], "range": ["#0000ff","#ff0000"]},
      "legend": {"orient": "none", "legendX": 327, "legendY": 12, "title": null, "labelExpr": "datum.label=='d'?'detailed model':'reduced-order model'", "symbolType": "M-2.1,0H2.1", "symbolSize": 49, "symbolStrokeWidth": 2.5, "symbolOffset": 4, "labelOffset": 5, "labelFont": "Liberation Mono", "labelFontSize": 7, "labelColor": "#333", "strokeColor": "#262626", "fillColor": "#fff", "padding": 1.5, "rowPadding": 1}},
    "strokeDash": {"field": "s", "type": "nominal", "scale": {"domain": ["d","r"], "range": [[1,0],[2,1.5]]},
      "legend": {"orient": "none", "legendX": 327, "legendY": 12, "title": null, "labelExpr": "datum.label=='d'?'detailed model':'reduced-order model'", "symbolType": "M-2.1,0H2.1", "symbolSize": 49, "symbolStrokeWidth": 2.5, "symbolOffset": 4, "labelOffset": 5, "labelFont": "Liberation Mono", "labelFontSize": 7, "labelColor": "#333", "strokeColor": "#262626", "fillColor": "#fff", "padding": 1.5, "rowPadding": 1}},
    "strokeWidth": {"condition": {"test": "datum.s=='d'", "value": 3}, "value": 1.8}
   }},
  {"data": {"values": [{"t":0.2,"v":17}]}, "mark": {"type": "point", "opacity": 0},
   "encoding": {
    "x": {"field": "t", "type": "quantitative", "axis": {"orient": "top", "labels": false, "title": null, "values": [0.2,0.25,0.3,0.35,0.4,0.45,0.5]}},
    "y": {"field": "v", "type": "quantitative", "axis": {"orient": "right", "labels": false, "title": null, "values": [17,17.1,17.2,17.3,17.4]}}
   }}
 ],
 "resolve": {"axis": {"x": "independent", "y": "independent"}}
},
{"width": 444, "height": 171,
 "title": {"text": "b) Reactive power at grid connection point", "dx": -9, "offset": 25},
 "layer": [
  {"data": {"name": "B"}, "transform": [{"fold": ["d","r"], "as": ["s","v"]}],
   "mark": {"type": "line", "clip": true},
   "encoding": {
    "x": {"field": "t", "type": "quantitative", "scale": {"domain": [0.2,0.5], "nice": false, "zero": false}, "axis": {"values": [0.2,0.25,0.3,0.35,0.4,0.45,0.5], "labelExpr": "''+datum.value", "title": "t/s"}},
    "y": {"field": "v", "type": "quantitative", "scale": {"domain": [3.25,3.5], "nice": false, "zero": false}, "axis": {"values": [3.25,3.3,3.35,3.4,3.45,3.5], "labelExpr": "''+datum.value", "title": "Reactive power Q/MWar", "titlePadding": 8}},
    "color": {"field": "s", "type": "nominal", "scale": {"domain": ["d","r"], "range": ["#0000ff","#ff0000"]},
      "legend": {"orient": "none", "legendX": 329, "legendY": 6, "title": null, "labelExpr": "datum.label=='d'?'detailed model':'reduced-order model'", "symbolType": "M-1.7,0H1.7", "symbolSize": 100, "symbolStrokeWidth": 2.5, "symbolOffset": 4, "labelOffset": 5, "labelFont": "Liberation Serif", "labelFontSize": 10, "labelColor": "#222", "strokeColor": "#262626", "fillColor": "#fff", "padding": 2, "rowPadding": 0}},
    "strokeDash": {"field": "s", "type": "nominal", "scale": {"domain": ["d","r"], "range": [[1,0],[2,1.5]]},
      "legend": {"orient": "none", "legendX": 329, "legendY": 6, "title": null, "labelExpr": "datum.label=='d'?'detailed model':'reduced-order model'", "symbolType": "M-1.7,0H1.7", "symbolSize": 100, "symbolStrokeWidth": 2.5, "symbolOffset": 4, "labelOffset": 5, "labelFont": "Liberation Serif", "labelFontSize": 10, "labelColor": "#222", "strokeColor": "#262626", "fillColor": "#fff", "padding": 2, "rowPadding": 0}},
    "strokeWidth": {"condition": {"test": "datum.s=='d'", "value": 3}, "value": 1.8}
   }},
  {"data": {"values": [{"t":0.2,"v":3.25}]}, "mark": {"type": "point", "opacity": 0},
   "encoding": {
    "x": {"field": "t", "type": "quantitative", "axis": {"orient": "top", "labels": false, "title": null, "values": [0.2,0.25,0.3,0.35,0.4,0.45,0.5]}},
    "y": {"field": "v", "type": "quantitative", "axis": {"orient": "right", "labels": false, "title": null, "values": [3.25,3.3,3.35,3.4,3.45,3.5]}}
   }}
 ],
 "resolve": {"axis": {"x": "independent", "y": "independent"}}
}
], "spacing": 26},
{"resolve": {"scale": {"color": "independent", "strokeDash": "independent"}},
 "hconcat": [
{"width": 423, "height": 186,
 "title": {"text": "c) Line voltage of grid-connected point", "dx": -24, "offset": 16},
 "layer": [
  {"data": {"name": "C"}, "transform": [{"fold": ["d","r"], "as": ["s","v"]}],
   "mark": {"type": "line", "clip": true},
   "encoding": {
    "x": {"field": "t", "type": "quantitative", "scale": {"domain": [0.2,0.5], "nice": false, "zero": false}, "axis": {"values": [0.2,0.25,0.3,0.35,0.4,0.45,0.5], "labelExpr": "''+datum.value", "title": "t/s"}},
    "y": {"field": "v", "type": "quantitative", "scale": {"domain": [64.6,67.4], "nice": false, "zero": false}, "axis": {"values": [65,65.5,66,66.5,67], "labelExpr": "''+datum.value", "title": "Output line voltage Vrms/kV", "titlePadding": 9, "labelPadding": 4}},
    "color": {"field": "s", "type": "nominal", "scale": {"domain": ["d","r"], "range": ["#0000ff","#ff0000"]},
      "legend": {"orient": "none", "legendX": 290, "legendY": 6, "title": null, "labelExpr": "datum.label=='d'?'detailed model':'reduced-order model'", "symbolType": "M-2.3,0H2.3", "symbolSize": 100, "symbolStrokeWidth": 2.5, "symbolOffset": 7, "labelOffset": 8, "labelFont": "Liberation Serif", "labelFontSize": 10.5, "labelColor": "#222", "strokeColor": "#262626", "fillColor": "#fff", "padding": 2.5, "rowPadding": 1}},
    "strokeDash": {"field": "s", "type": "nominal", "scale": {"domain": ["d","r"], "range": [[1,0],[2,1.5]]},
      "legend": {"orient": "none", "legendX": 290, "legendY": 6, "title": null, "labelExpr": "datum.label=='d'?'detailed model':'reduced-order model'", "symbolType": "M-2.3,0H2.3", "symbolSize": 100, "symbolStrokeWidth": 2.5, "symbolOffset": 7, "labelOffset": 8, "labelFont": "Liberation Serif", "labelFontSize": 10.5, "labelColor": "#222", "strokeColor": "#262626", "fillColor": "#fff", "padding": 2.5, "rowPadding": 1}},
    "strokeWidth": {"condition": {"test": "datum.s=='d'", "value": 3}, "value": 1.8}
   }},
  {"data": {"values": [{"t":0.2,"v":65}]}, "mark": {"type": "point", "opacity": 0},
   "encoding": {
    "x": {"field": "t", "type": "quantitative", "axis": {"orient": "top", "labels": false, "title": null, "values": [0.2,0.25,0.3,0.35,0.4,0.45,0.5]}},
    "y": {"field": "v", "type": "quantitative", "axis": {"orient": "right", "labels": false, "title": null, "values": [65,65.5,66,66.5,67]}}
   }}
 ],
 "resolve": {"axis": {"x": "independent", "y": "independent"}}
},
{"width": 435, "height": 179,
 "title": {"text": "d) Output current of grid-connected point", "dx": -2, "offset": 16},
 "layer": [
  {"data": {"name": "D"}, "transform": [{"fold": ["d","r"], "as": ["s","v"]}],
   "mark": {"type": "line", "clip": true, "interpolate": "natural"},
   "encoding": {
    "x": {"field": "t", "type": "quantitative", "scale": {"domain": [0.2,0.5], "nice": false, "zero": false}, "axis": {"values": [0.2,0.25,0.3,0.35,0.4,0.45,0.5], "labelExpr": "''+datum.value", "title": "t/s"}},
    "y": {"field": "v", "type": "quantitative", "scale": {"domain": [-0.3,0.3], "nice": false, "zero": false}, "axis": {"values": [-0.3,-0.2,-0.1,0,0.1,0.2], "labelExpr": "''+datum.value", "title": "Output current  I/kA", "titlePadding": 3, "labelPadding": 3}},
    "color": {"field": "s", "type": "nominal", "scale": {"domain": ["d","r"], "range": ["#0000ff","#ff0000"]},
      "legend": {"orient": "none", "legendX": 324, "legendY": -1, "title": null, "labelExpr": "datum.label=='d'?'detailed model':'reduced-order model'", "symbolType": "M-1.7,0H1.7", "symbolSize": 100, "symbolStrokeWidth": 2.5, "symbolOffset": 4, "labelOffset": 5, "labelFont": "Liberation Serif", "labelFontSize": 10, "labelColor": "#222", "strokeColor": "#262626", "fillColor": "#fff", "padding": 2, "rowPadding": 0}},
    "strokeDash": {"field": "s", "type": "nominal", "scale": {"domain": ["d","r"], "range": [[1,0],[2,1.5]]},
      "legend": {"orient": "none", "legendX": 324, "legendY": -1, "title": null, "labelExpr": "datum.label=='d'?'detailed model':'reduced-order model'", "symbolType": "M-1.7,0H1.7", "symbolSize": 100, "symbolStrokeWidth": 2.5, "symbolOffset": 4, "labelOffset": 5, "labelFont": "Liberation Serif", "labelFontSize": 10, "labelColor": "#222", "strokeColor": "#262626", "fillColor": "#fff", "padding": 2, "rowPadding": 0}},
    "strokeWidth": {"condition": {"test": "datum.s=='d'", "value": 3}, "value": 1.8}
   }},
  {"data": {"values": [{"t":0.2,"v":0}]}, "mark": {"type": "point", "opacity": 0},
   "encoding": {
    "x": {"field": "t", "type": "quantitative", "axis": {"orient": "top", "labels": false, "title": null, "values": [0.2,0.25,0.3,0.35,0.4,0.45,0.5]}},
    "y": {"field": "v", "type": "quantitative", "axis": {"orient": "right", "labels": false, "title": null, "values": [-0.3,-0.2,-0.1,0,0.1,0.2]}}
   }}
 ],
 "resolve": {"axis": {"x": "independent", "y": "independent"}}
}
], "spacing": 44}
],
"spacing": 13
}
